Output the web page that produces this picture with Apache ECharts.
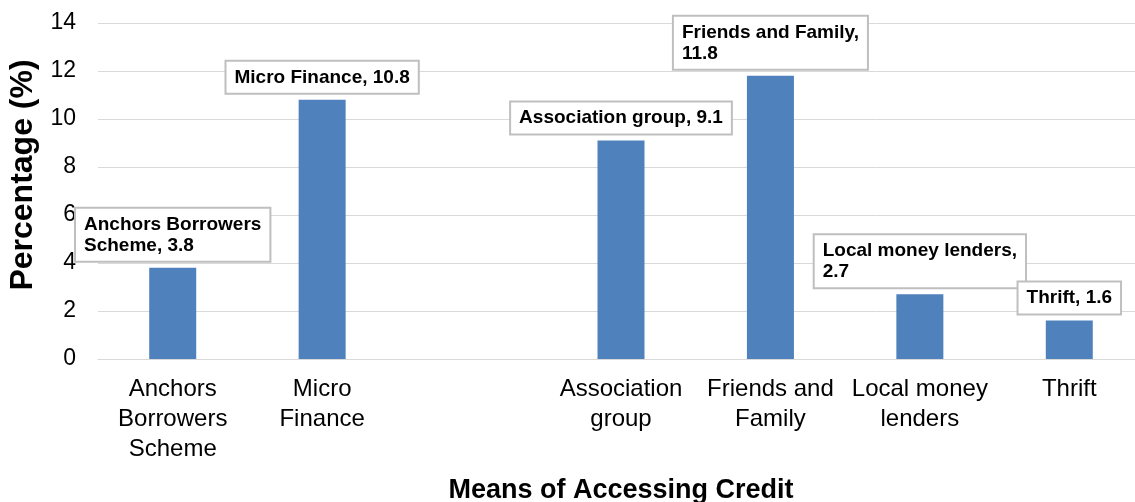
<!DOCTYPE html>
<html>
<head>
<meta charset="utf-8">
<script src="https://cdn.jsdelivr.net/npm/echarts@6/dist/echarts.min.js"></script>
<style>
html,body{margin:0;padding:0;background:#fff;}
#chart{width:1135px;height:502px;}
</style>
</head>
<body>
<div id="chart"></div>
<script>
// Data
const categories = ['Anchors\nBorrowers\nScheme', 'Micro\nFinance', '', 'Association\ngroup', 'Friends and\nFamily', 'Local money\nlenders', 'Thrift'];
const values = [3.8, 10.8, null, 9.1, 11.8, 2.7, 1.6];
const labelNames = ['Anchors Borrowers\nScheme', 'Micro Finance', '', 'Association group', 'Friends and Family', 'Local money lenders', 'Thrift'];
const labelBreakAfterComma = [false, false, false, false, true, true, false];
const yTicks = [0, 2, 4, 6, 8, 10, 12, 14];

const chart = echarts.init(document.getElementById('chart'));
const option = {
  backgroundColor: '#ffffff',
  animation: false,
  grid: {
    left: 98, right: -9, top: 23, bottom: 143,
    containLabel: false,
    outerBoundsMode: 'none'
  },
  xAxis: {
    type: 'category',
    data: categories,
    name: 'Means of Accessing Credit',
    nameLocation: 'middle',
    nameGap: 118,
    nameTextStyle: { fontFamily: 'Liberation Sans, Arial, sans-serif', fontSize: 27, fontWeight: 'bold', color: '#000' },
    axisLine: { show: true, lineStyle: { color: '#d9d9d9', width: 1 } },
    axisTick: { show: false },
    axisLabel: {
      interval: 0,
      margin: 15,
      fontFamily: 'Liberation Sans, Arial, sans-serif',
      fontSize: 24,
      lineHeight: 30,
      color: '#000'
    },
    splitLine: { show: false }
  },
  yAxis: {
    type: 'value',
    min: yTicks[0],
    max: yTicks[yTicks.length - 1],
    interval: 2,
    name: 'Percentage (%)',
    nameLocation: 'middle',
    nameGap: 58,
    nameTextStyle: { fontFamily: 'Liberation Sans, Arial, sans-serif', fontSize: 32, fontWeight: 'bold', color: '#000', padding: [0, 0, 0, 32] },
    axisLine: { show: false },
    axisTick: { show: false },
    axisLabel: {
      margin: 22,
      fontFamily: 'Liberation Sans, Arial, sans-serif',
      fontSize: 23,
      color: '#000'
    },
    splitLine: { show: true, lineStyle: { color: '#d9d9d9', width: 1 } }
  },
  series: [{
    type: 'bar',
    data: values,
    barWidth: 47,
    itemStyle: { color: '#4f81bd' },
    label: {
      show: true,
      position: 'top',
      distance: 7,
      backgroundColor: '#ffffff',
      borderColor: '#bfbfbf',
      borderWidth: 2,
      padding: [5, 8, 5, 8],
      formatter: function (p) {
        const i = p.dataIndex;
        const txt = labelNames[i] + ',' + (labelBreakAfterComma[i] ? '\n' : ' ') + p.value;
        return txt.split('\n').map(function (l) { return '{a|' + l + '}'; }).join('\n');
      },
      rich: {
        a: {
          align: 'left',
          fontFamily: 'Liberation Sans, Arial, sans-serif',
          fontSize: 19,
          fontWeight: 'bold',
          lineHeight: 21,
          color: '#000'
        }
      }
    }
  }]
};
chart.setOption(option);
</script>
</body>
</html>
